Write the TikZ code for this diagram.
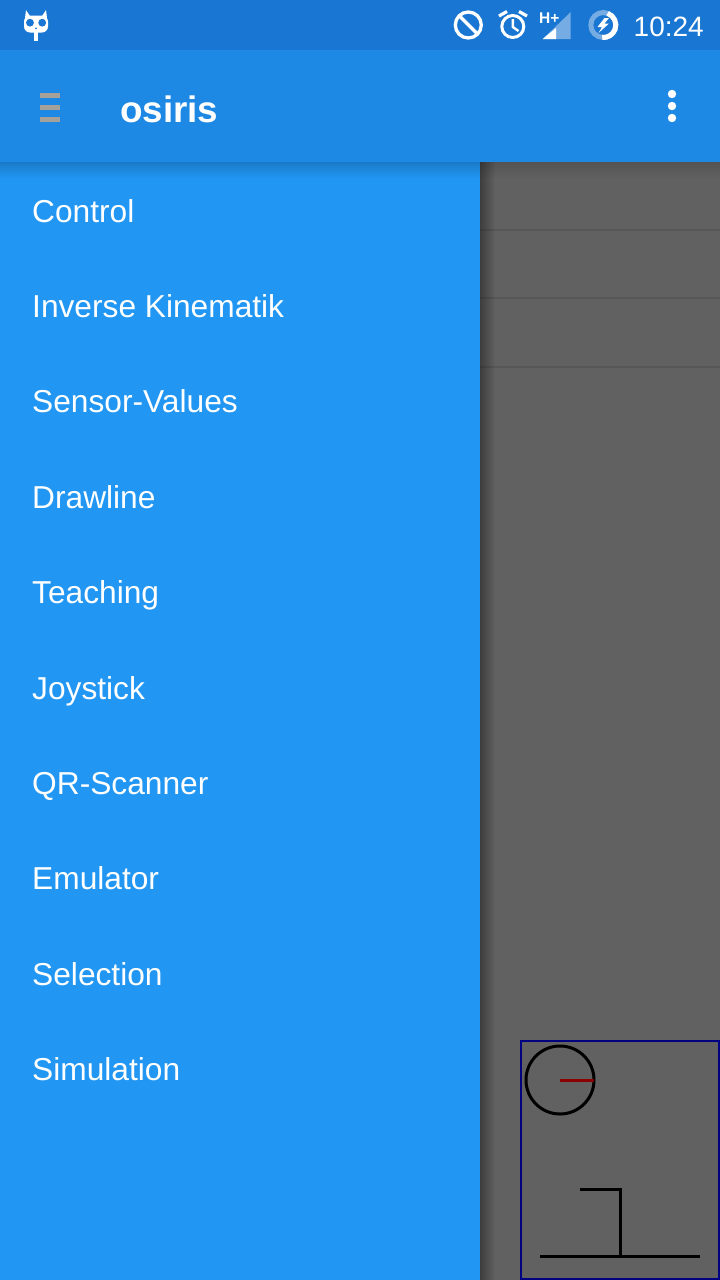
\documentclass[tikz,border=0pt]{standalone}
\usepackage{fontspec}
\setmainfont{Liberation Sans}
\usetikzlibrary{positioning}
\definecolor{statusblue}{HTML}{1976D2}
\definecolor{barblue}{HTML}{1E88E5}
\definecolor{drawerblue}{HTML}{2196F3}
\definecolor{dimgrey}{HTML}{616161}
\definecolor{dimline}{HTML}{575757}
\definecolor{burgerc}{HTML}{A5A09A}
\definecolor{framec}{HTML}{000080}
\definecolor{needlec}{HTML}{8B0000}
\begin{document}
\begin{tikzpicture}[
            x=1pt, y=-1pt,
            item/.style={anchor=base west, inner sep=0pt, text=white, font=\fontsize{31.7}{36}\selectfont},
            title/.style={anchor=base west, inner sep=0pt, text=white, font=\fontsize{36.8}{44}\selectfont\bfseries},
            clock/.style={anchor=base east, inner sep=0pt, text=white, font=\fontsize{28}{34}\selectfont},
            icon/.style={draw=white, line width=3.3pt, fill=none},
            sketch/.style={draw=black, line width=3pt}
        ]
        \useasboundingbox (0,0) rectangle (720,1280);
        % backgrounds
        \fill[dimgrey] (0,162) rectangle (720,1280);
        \foreach \ypos in {230,298,367}
            \draw[dimline, line width=1.4pt] (480,\ypos) -- (720,\ypos);
        \foreach \k in {0,...,14}
            \fill[black, opacity={0.36*(1-\k/15)}] (480+\k,162) rectangle (481+\k,1280);
        \fill[drawerblue] (0,162) rectangle (480,1280);
        % shadow under the bar
        \foreach \k in {0,...,15} {
            \fill[black, opacity={0.18*(1-\k/16)}] (0,162+\k) rectangle (480,163+\k);
            \fill[black, opacity={0.14*(1-\k/16)}] (480,162+\k) rectangle (720,163+\k);
        }
        \fill[barblue] (0,50) rectangle (720,162);
        \fill[statusblue] (0,0) rectangle (720,50);
        % menu
        \foreach \label [count=\i from 0] in {Control, Inverse Kinematik, Sensor-Values, Drawline, Teaching, Joystick, QR-Scanner, Emulator, Selection, Simulation}
            \node[item] (menu\i) at (32,{222+95.4*\i}) {\label};
        % app bar
        \node[title] (appname) at (120,122) {osiris};
        \foreach \ypos in {95.3,107.3,119.3}
            \fill[burgerc] (40,\ypos-2.6) rectangle (60,\ypos+2.6);
        \foreach \ypos in {94,106,118}
            \fill[white] (672,\ypos) circle (4.2);
        % status bar left
        \fill[white, rounded corners=6pt] (24,15.5) rectangle (48,32.5);
        \fill[white] (25,18) -- (26,10) -- (30,16) -- cycle;
        \fill[white] (47,18) -- (46,10) -- (42,16) -- cycle;
        \fill[white] (34.4,32) rectangle (37.6,41);
        \fill[statusblue] (30,22.7) circle (3.9);
        \fill[statusblue] (42.2,22.7) circle (3.9);
        \fill[statusblue] (36,28.3) circle (1);
        % status bar right
        \draw[icon] (468.3,25) circle (13);
        \draw[icon] (459.5,16) -- (477.5,34);
        \draw[white, line width=3pt] (512.8,26.5) circle (11);
        \draw[white, line width=2.4pt] (512.8,19) -- (512.8,27) -- (518.5,31);
        \draw[white, line width=3.2pt] (499,16) -- (507,11.5);
        \draw[white, line width=3.2pt] (527,16) -- (519,11.5);
        \fill[white, opacity=0.4] (570.7,12) -- (570.7,39) -- (542.7,39) -- cycle;
        \fill[white] (556,28) -- (556,39) -- (542.7,39) -- cycle;
        \node[anchor=base west, inner sep=0pt, text=white, font=\fontsize{15.5}{18}\selectfont\bfseries] (hplus) at (539,23) {H+};
        \draw[white, opacity=0.4, line width=5pt] (603.3,25) circle (12.5);
        \draw[white, line width=5pt] (603.3,12.5) ++(4.3,0.8) arc[start angle=-70, end angle=95, radius=12.5];
        \fill[white] (604.5,18) -- (597.5,27) -- (602,27) -- (598.5,33) -- (609,23.5) -- (604.5,23.5) -- (609,18) -- cycle;
        \node[clock] (time) at (704,36) {10:24};
        % robot preview
        \draw[framec, line width=1.7pt] (521,1041) rectangle (719.2,1279.2);
        \draw[sketch] (560,1080) circle (34);
        \draw[needlec, line width=3pt] (560,1080) -- (594,1080);
        \draw[sketch] (580,1189) -- (620,1189) -- (620,1256);
        \draw[sketch] (540,1256) -- (700,1256);
\end{tikzpicture}
\end{document}
